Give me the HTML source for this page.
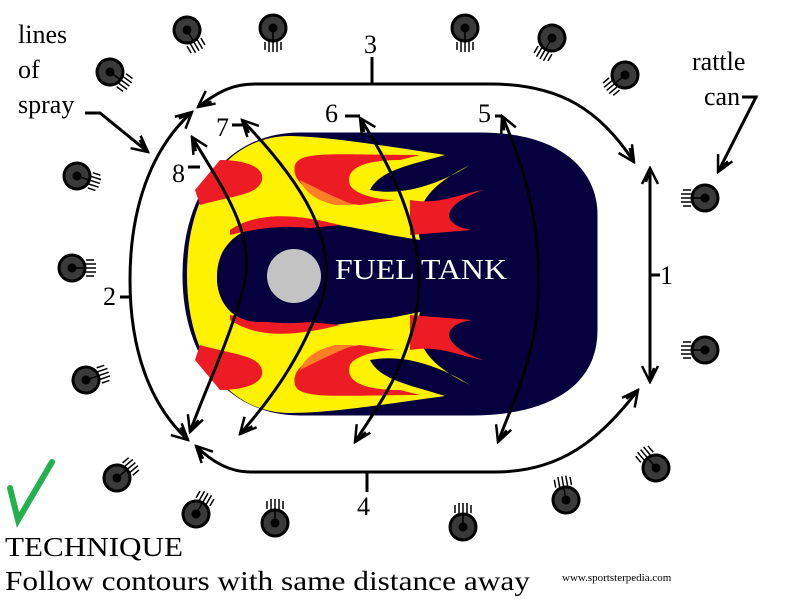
<!DOCTYPE html>
<html><head><meta charset="utf-8"><style>
html,body{margin:0;padding:0;background:#fff;width:800px;height:600px;overflow:hidden}
text{font-family:"Liberation Serif",serif;fill:#000}
</style></head><body>
<svg width="800" height="600" viewBox="0 0 800 600" xmlns="http://www.w3.org/2000/svg">
<defs>
<marker id="a" viewBox="0 0 20 20" refX="18" refY="10" markerWidth="20" markerHeight="20" markerUnits="userSpaceOnUse" orient="auto-start-reverse">
<path d="M2 2 L18 10 L2 18 M4 6 L16 10" fill="none" stroke="#000" stroke-width="2.5"/>
</marker>
<g id="can"><circle r="13" fill="#3a3a3a" stroke="#000" stroke-width="3"/><circle r="4.5" fill="#000"/><path d="M4 0H24M12 -4H24M12 4H24M14 8H22M14 -8H22" stroke="#000" stroke-width="1.5"/></g>
</defs>
<path d="M300 133 L480 133 C560 133 597 170 597 215 L597 330 C597 385 550 415 470 415 L300 415 C230 415 183 360 183 275 C183 190 230 133 300 133Z" fill="#07003f" stroke="#07003f"/>
<path d="M290 136 C330 137 380 145 445 155 C410 165 380 170 370 190 C395 195 430 190 470 165 C440 180 410 200 420 240 L390 235 C340 225 300 215 260 228 C230 230 217 255 217 278 C217 300 230 320 260 325 C300 335 340 322 390 318 L420 312 C410 350 440 370 470 385 C430 360 395 355 370 360 C380 380 410 385 445 396 C380 405 330 413 290 413 C230 413 187 360 187 275 C187 190 230 136 290 136Z" fill="#fff200"/>
<path d="M220 160 C240 160 265 165 262 180 C258 195 235 195 200 205 L195 190Z" fill="#ed1c24"/>
<path d="M220 390 C240 390 265 385 262 370 C258 355 235 355 200 345 L195 360Z" fill="#ed1c24"/>
<path d="M295 165 C300 150 340 155 420 155 L400 160 C360 160 345 170 350 185 C355 195 380 200 395 200 L360 205 C320 200 290 185 295 165Z" fill="#ed1c24"/>
<path d="M295 385 C300 400 340 395 420 395 L400 390 C360 390 345 380 350 365 C355 355 380 350 395 350 L360 345 C320 350 290 365 295 385Z" fill="#ed1c24"/>
<path d="M410 200 C440 205 455 195 483 190 C440 205 440 225 472 230 L410 235Z" fill="#ed1c24"/>
<path d="M410 350 C440 345 455 355 483 360 C440 345 440 325 472 320 L410 315Z" fill="#ed1c24"/>
<path d="M230 230 C260 210 300 215 340 225 L310 228 C280 225 260 228 230 235Z" fill="#ed1c24"/>
<path d="M230 320 C260 340 300 335 340 325 L310 322 C280 325 260 322 230 315Z" fill="#ed1c24"/>
<path d="M300 180 C320 190 340 200 355 205 L335 205 C315 200 305 192 300 180Z" fill="#ff7f27"/>
<path d="M300 370 C320 360 340 350 355 345 L335 345 C315 350 305 358 300 370Z" fill="#ff7f27"/>
<path d="M260 232 C300 228 360 238 420 240 L420 310 C360 312 300 322 260 322 C230 322 217 300 217 277 C217 252 230 232 260 232Z" fill="#07003f"/>
<circle cx="294" cy="276" r="27" fill="#c3c3c3"/>
<text x="335" y="279" font-size="28" textLength="172" lengthAdjust="spacingAndGlyphs" style="fill:#fff">FUEL TANK</text>
<g fill="none" stroke="#000" stroke-width="3">
<path d="M198 107 C220 90 235 84 255 84 L490 84 C560 84 600 110 634 162" marker-start="url(#a)" marker-end="url(#a)"/>
<path d="M650 168 V382" marker-start="url(#a)" marker-end="url(#a)"/>
<path d="M638 390 C600 440 560 472 495 472 L250 472 C230 472 212 462 196 446" marker-start="url(#a)" marker-end="url(#a)"/>
<path d="M192 112 C150 150 130 210 130 280 C130 350 150 405 188 440" marker-start="url(#a)" marker-end="url(#a)"/>
<path d="M192 137 C230 200 260 240 240 300 C225 350 205 390 190 432" marker-start="url(#a)" marker-end="url(#a)"/>
<path d="M242 120 C300 180 340 240 322 300 C300 360 270 400 240 434" marker-start="url(#a)" marker-end="url(#a)"/>
<path d="M360 118 C400 180 430 250 415 320 C400 380 375 410 355 442" marker-start="url(#a)" marker-end="url(#a)"/>
<path d="M502 116 C535 190 545 260 535 330 C525 380 510 410 498 442" marker-start="url(#a)" marker-end="url(#a)"/>
<path d="M372 57 V84 M367 472 V492 M130 297 H120 M650 275 H660"/>
<path d="M345 116 H360 M495 116 H502 M232 125 H245 M188 167 H200"/>
<path d="M85 113 H100 L148 152" marker-end="url(#a)"/>
<path d="M742 97 H756 L718 172" marker-end="url(#a)"/>
</g>
<g font-size="26">
<text x="18" y="43">lines</text><text x="18" y="78">of</text><text x="18" y="113">spray</text>
<text x="692" y="70">rattle</text><text x="704" y="105">can</text>
<text x="364" y="53">3</text><text x="357" y="515">4</text>
<text x="103" y="305">2</text><text x="660" y="284">1</text>
<text x="325" y="122">6</text><text x="478" y="122">5</text>
<text x="216" y="136">7</text><text x="172" y="182">8</text>
<text x="5" y="556" font-size="27" textLength="178" lengthAdjust="spacingAndGlyphs">TECHNIQUE</text>
<text x="5" y="590" font-size="27" textLength="525" lengthAdjust="spacingAndGlyphs">Follow contours with same distance away</text>
</g>
<text x="562" y="581" font-size="11">www.sportsterpedia.com</text>
<path d="M10 488 L18 520 L52 462" fill="none" stroke="#22b14c" stroke-width="6" stroke-linecap="round"/>
<use href="#can" transform="translate(187,30) rotate(60)"/>
<use href="#can" transform="translate(273,28) rotate(90)"/>
<use href="#can" transform="translate(465,28) rotate(90)"/>
<use href="#can" transform="translate(552,38) rotate(120)"/>
<use href="#can" transform="translate(110,72) rotate(36)"/>
<use href="#can" transform="translate(625,75) rotate(140)"/>
<use href="#can" transform="translate(77,176) rotate(18)"/>
<use href="#can" transform="translate(705,198) rotate(180)"/>
<use href="#can" transform="translate(72,268) rotate(0)"/>
<use href="#can" transform="translate(705,350) rotate(180)"/>
<use href="#can" transform="translate(86,380) rotate(-19)"/>
<use href="#can" transform="translate(656,468) rotate(-130)"/>
<use href="#can" transform="translate(117,478) rotate(-40)"/>
<use href="#can" transform="translate(196,514) rotate(-60)"/>
<use href="#can" transform="translate(275,523) rotate(-90)"/>
<use href="#can" transform="translate(463,527) rotate(-90)"/>
<use href="#can" transform="translate(566,500) rotate(-100)"/>
</svg>
</body></html>
